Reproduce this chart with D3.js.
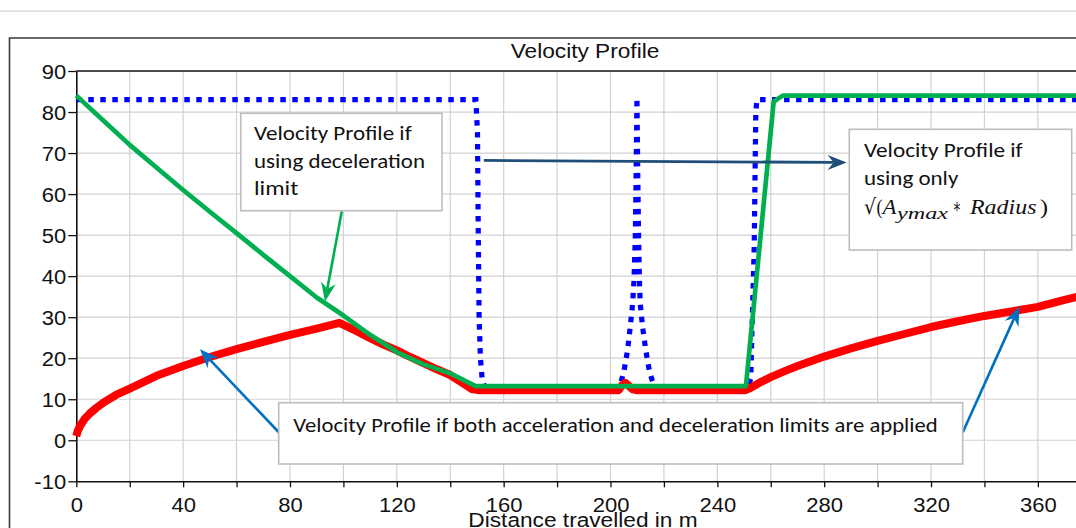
<!DOCTYPE html>
<html><head><meta charset="utf-8">
<script src="https://cdn.jsdelivr.net/npm/d3@7"></script>
<style>
html,body{margin:0;padding:0;background:#fff;overflow:hidden}
svg{display:block}
</style></head><body>
<svg id="chart" width="1076" height="528"></svg>
<script>
// ---------- data ----------
const blueDistance = [0, 149.6, 150.2, 150.5, 150.8, 151.3, 152, 153, 203.5, 205.1, 206.4, 207.4, 208.3, 208.8, 209.3, 209.6, 209.9, 210.2, 210.5, 210.8, 211.1, 212, 213.2, 214.5, 215.4, 216.5, 251.5, 252.5, 253.8, 254.4, 254.8, 380];
const blueVelocity = [83, 83, 75, 50, 30, 20, 14.5, 13, 13, 17.1, 22, 27.7, 33.4, 39, 50, 65, 83.5, 65, 50, 40, 33.4, 27.7, 22, 17.1, 15, 13, 13, 15, 47, 80, 83, 83];

const greenDistance = [0, 10, 20, 30, 40, 50, 60, 70, 80, 90, 100, 110, 120, 130, 140, 149.5, 250.7, 261.1, 264.5, 380];
const greenVelocity = [84, 78, 72, 66.5, 61, 55.7, 50.5, 45.2, 40, 34.8, 30.4, 25.7, 21.5, 18.5, 16.3, 13.2, 13.2, 82.6, 84, 84];

const redDistance = [0, 0.5, 1.5, 3, 5, 7.5, 10, 15, 20, 30, 40, 50, 60, 70, 80, 90, 98.5, 105, 110, 115, 120, 125, 130, 135, 140, 145, 148, 151, 203, 204.2, 205.5, 206.8, 208.3, 210, 250.5, 252.5, 256, 260, 265, 270, 280, 290, 300, 310, 320, 330, 340, 350, 360, 370, 380];
const redVelocity = [1, 2.2, 3.6, 5.1, 6.5, 7.9, 9.1, 11.1, 12.6, 15.7, 18.1, 20.3, 22.2, 24.0, 25.7, 27.2, 28.6, 26.6, 24.9, 23.3, 21.9, 20.3, 18.8, 17.3, 15.9, 13.8, 12.5, 12.2, 12.2, 13.3, 14, 13.3, 12.4, 12.2, 12.2, 12.8, 14.1, 15.4, 16.8, 18.1, 20.4, 22.4, 24.2, 25.9, 27.6, 29.0, 30.3, 31.4, 32.5, 34.2, 35.8];

const xTickValues = d3.range(0, 381, 20);
const xLabelStep = 40;
const yTickValues = d3.range(-10, 91, 10);

const chartTitle = "Velocity Profile";
const xTitle = "Distance travelled in m";

// ---------- setup ----------
const svg = d3.select("#chart");
const x = d3.scaleLinear().domain([0, 380]).range([76.3, 76.3 + 380 * 2.671]);
const y = d3.scaleLinear().domain([-10, 90]).range([481.3, 71]);
const px0 = x(0), py0 = y(90), py1 = y(-10);

// page line + outer frame
svg.append("line").attr("x1", 0).attr("x2", 1076).attr("y1", 11).attr("y2", 11)
  .attr("stroke", "#e3e3e3").attr("stroke-width", 2.2);
svg.append("path").attr("d", "M9.5,528V38H1076").attr("fill", "none")
  .attr("stroke", "#3a3a3a").attr("stroke-width", 1.6);

// gridlines
const grid = svg.append("g");
grid.selectAll(".vg").data(xTickValues.filter(d => d > 0)).enter().append("line")
  .attr("x1", d => x(d)).attr("x2", d => x(d)).attr("y1", py0).attr("y2", py1)
  .attr("stroke", "#d2d2d2").attr("stroke-width", 1.2);
grid.selectAll(".hg").data(yTickValues.filter(d => d > -10 && d < 90)).enter().append("line")
  .attr("x1", px0).attr("x2", 1076).attr("y1", d => y(d)).attr("y2", d => y(d))
  .attr("stroke", "#d2d2d2").attr("stroke-width", 1.2);

// plot top border
svg.append("line").attr("x1", px0).attr("x2", 1076).attr("y1", py0).attr("y2", py0)
  .attr("stroke", "#111").attr("stroke-width", 1.3);

// axes
const tickFont = "'Liberation Sans', Arial, sans-serif";
const xAxis = svg.append("g").attr("transform", `translate(0,${py1})`)
  .call(d3.axisBottom(x).tickValues(xTickValues).tickSize(6).tickSizeOuter(0)
    .tickFormat(d => d % xLabelStep === 0 ? String(d) : ""));
xAxis.select(".domain").attr("stroke", "#111").attr("stroke-width", 1.6);
xAxis.selectAll(".tick line").attr("stroke", "#111").attr("stroke-width", 1.3);
xAxis.selectAll(".tick text").attr("y", 31).attr("dy", 0)
  .attr("font-family", tickFont).attr("font-size", 19.5).attr("fill", "#111")
  .attr("transform", "scale(1.13,1)");

const yAxis = svg.append("g").attr("transform", `translate(${px0},0)`)
  .call(d3.axisLeft(y).tickValues(yTickValues).tickSize(8).tickSizeOuter(0)
    .tickFormat(d => String(d)));
yAxis.select(".domain").attr("stroke", "#111").attr("stroke-width", 1.6);
yAxis.selectAll(".tick line").attr("stroke", "#111").attr("stroke-width", 1.3);
yAxis.selectAll(".tick text").attr("x", -9).attr("dy", "0.36em")
  .attr("font-family", tickFont).attr("font-size", 19.5).attr("fill", "#111")
  .attr("transform", "scale(1.13,1)");

// titles
svg.append("g").attr("transform", "translate(585,58)")
  .append("text").attr("text-anchor", "middle").attr("font-family", tickFont)
  .attr("font-size", 21).attr("fill", "#111").attr("transform", "scale(1.08,1)").text(chartTitle);
svg.append("g").attr("transform", "translate(583,527)")
  .append("text").attr("text-anchor", "middle").attr("font-family", tickFont)
  .attr("font-size", 21).attr("fill", "#111").attr("transform", "scale(1.08,1)").text(xTitle);

// series
const lineGen = (xs, vs) => d3.line().x((d, i) => x(xs[i])).y((d, i) => y(vs[i]))(xs);
const plot = svg.append("g");
plot.append("path").attr("d", lineGen(blueDistance, blueVelocity)).attr("fill", "none")
  .attr("stroke", "#0000ff").attr("stroke-width", 5.2).attr("stroke-dasharray", "5.5,6.5");
plot.append("path").attr("d", lineGen(redDistance, redVelocity)).attr("fill", "none")
  .attr("stroke", "#ff0000").attr("stroke-width", 8).attr("stroke-linejoin", "round");
plot.append("path").attr("d", lineGen(greenDistance, greenVelocity)).attr("fill", "none")
  .attr("stroke", "#00b050").attr("stroke-width", 4.7).attr("stroke-linejoin", "round");

// ---------- annotations ----------
const ann = svg.append("g");
function arrow(x1, y1, x2, y2, color, w) {
  const dx = x2 - x1, dy = y2 - y1, L = Math.hypot(dx, dy), ux = dx / L, uy = dy / L;
  const hl = 19, hw = 7.5, notch = 6;
  const bx = x2 - ux * hl, by = y2 - uy * hl, nx = -uy, ny = ux;
  const mx = x2 - ux * (hl - notch), my = y2 - uy * (hl - notch);
  ann.append("line").attr("x1", x1).attr("y1", y1).attr("x2", mx).attr("y2", my)
    .attr("stroke", color).attr("stroke-width", w);
  ann.append("path").attr("d", `M${x2},${y2}L${bx + nx * hw},${by + ny * hw}L${mx},${my}L${bx - nx * hw},${by - ny * hw}Z`)
    .attr("fill", color);
}
function box(x0, y0, x1, y1) {
  ann.append("rect").attr("x", x0).attr("y", y0).attr("width", x1 - x0).attr("height", y1 - y0)
    .attr("fill", "#fff").attr("stroke", "#bdbdbd").attr("stroke-width", 1.6);
}
const calloutFont = "Carlito, Lato, sans-serif";
function label(tx, ty, str, len, size) {
  ann.append("text").attr("x", tx).attr("y", ty).attr("font-family", calloutFont)
    .attr("font-size", size || 19.5).attr("fill", "#111")
    .attr("textLength", len).attr("lengthAdjust", "spacingAndGlyphs").text(str);
}

// arrows (in data units)
arrow(x(99.4), y(55.8), x(93.1), y(33.8), "#00b050", 2.6);
arrow(x(152.6), y(68.2), x(288.4), y(67.7), "#1f4e79", 2.8);
arrow(x(75.8), y(1.95), x(46.3), y(22.2), "#0070c0", 2.6);
arrow(x(331.9), y(1.95), x(353.1), y(32.6), "#0070c0", 2.6);

// box 1
box(240.7, 113.3, 442, 210.7);
label(254, 140, "Velocity Profile if", 157.7);
label(254, 168, "using deceleration", 171);
label(254, 195, "limit", 44.3);

// box 2
box(849.3, 129.3, 1071.7, 250);
label(864, 157.3, "Velocity Profile if", 158.7);
label(864, 185, "using only", 94.3);
const mathFont = "'Liberation Serif', 'DejaVu Serif', serif";
function mt(tx, ty, str, len, size, italic, fam) {
  ann.append("text").attr("x", tx).attr("y", ty).attr("font-family", fam || mathFont)
    .attr("font-size", size).attr("font-style", italic ? "italic" : "normal").attr("fill", "#111")
    .attr("textLength", len).attr("lengthAdjust", "spacingAndGlyphs").text(str);
}
mt(864, 214, "√", 12, 21, false, "'DejaVu Serif', serif");
mt(876.5, 214, "(", 6, 22, false);
mt(882.5, 214, "A", 14, 22, true);
mt(897, 218.5, "ymax", 51, 17, true);
mt(952.5, 213, "∗", 9, 20, false, "'DejaVu Serif', serif");
mt(970, 214, "Radius", 66.5, 22, true);
mt(1040, 214, ")", 8, 22, false);

// box 3
box(278.7, 402.7, 962.7, 464);
label(293.3, 431.7, "Velocity Profile if both acceleration and deceleration limits are applied", 644.4);
</script>
</body></html>
